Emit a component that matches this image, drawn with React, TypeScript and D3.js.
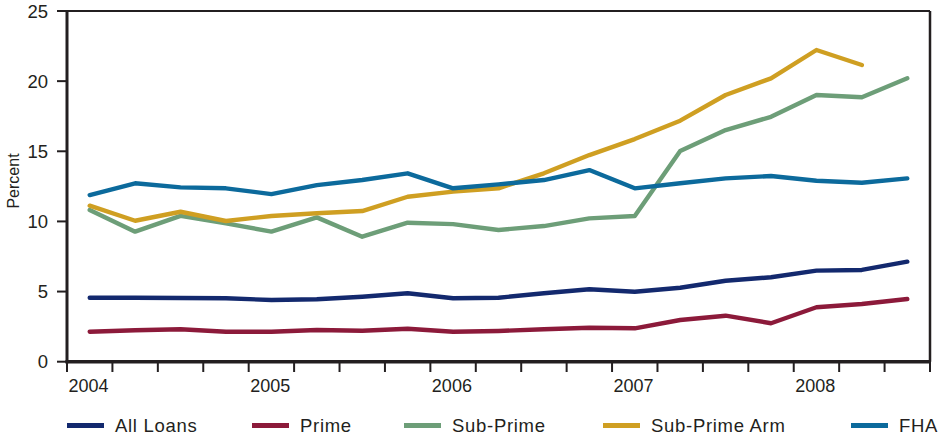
import React from "react";
import * as d3 from "d3";

const quarters = [
  "2004Q1","2004Q2","2004Q3","2004Q4",
  "2005Q1","2005Q2","2005Q3","2005Q4",
  "2006Q1","2006Q2","2006Q3","2006Q4",
  "2007Q1","2007Q2","2007Q3","2007Q4",
  "2008Q1","2008Q2","2008Q3",
];
const yearLabels = ["2004", "2005", "2006", "2007", "2008"];
const yTicks = [0, 5, 10, 15, 20, 25];

const allLoans = [4.56, 4.56, 4.54, 4.52, 4.40, 4.45, 4.63, 4.88, 4.52, 4.56, 4.88, 5.16, 4.99, 5.27, 5.77, 6.02, 6.49, 6.54, 7.13];
const prime = [2.14, 2.24, 2.31, 2.14, 2.14, 2.26, 2.21, 2.35, 2.14, 2.19, 2.31, 2.42, 2.38, 2.97, 3.28, 2.74, 3.88, 4.11, 4.47];
const subPrime = [10.81, 9.27, 10.39, 9.86, 9.27, 10.29, 8.91, 9.91, 9.81, 9.39, 9.67, 10.22, 10.39, 15.02, 16.51, 17.46, 19.01, 18.85, 20.2];
const subPrimeArm = [11.12, 10.05, 10.69, 10.03, 10.39, 10.58, 10.74, 11.76, 12.12, 12.36, 13.43, 14.73, 15.87, 17.18, 19.01, 20.2, 22.22, 21.15];
const fha = [11.88, 12.72, 12.43, 12.36, 11.95, 12.59, 12.95, 13.43, 12.36, 12.64, 12.95, 13.66, 12.36, 12.72, 13.07, 13.24, 12.9, 12.76, 13.07];

const seriesNames = ["All Loans", "Prime", "Sub-Prime", "Sub-Prime Arm", "FHA"];
const seriesValues = [allLoans, prime, subPrime, subPrimeArm, fha];
const seriesColors = ["#13296e", "#8c1a3a", "#6d9e78", "#cf9f22", "#0c6a9c"];

const FONT = "'Liberation Sans', Arial, Helvetica, sans-serif";
const INK = "#231f20";

export default function App() {
  const W = 943, H = 438;
  const left = 67, right = 930, top = 11, bottom = 361.7;

  const xBand = d3.scaleBand<string>().domain(quarters).range([left, right]).padding(0);
  const xc = (i: number) => (xBand(quarters[i]) as number) + xBand.bandwidth() / 2;
  const y = d3.scaleLinear().domain([0, 25]).range([bottom, top]);

  const line = d3.line<number>().x((_, i) => xc(i)).y((v) => y(v));

  const tickXs = quarters.map((q) => xBand(q) as number).concat([right]);

  const legendX = [67, 252, 404, 603, 851];

  return (
    <svg width={W} height={H} style={{ position: "absolute", left: 0, top: 0, background: "#fff" }} fontFamily={FONT}>
      <rect x={0} y={0} width={W} height={H} fill="#fff" />
      {/* frame */}
      <line x1={left} x2={right} y1={top} y2={top} stroke={INK} strokeWidth={2} />
      <line x1={right} x2={right} y1={top} y2={bottom} stroke={INK} strokeWidth={2.5} />
      {/* series */}
      {seriesValues.map((vals, k) => (
        <path key={k} d={line(vals) || ""} fill="none" stroke={seriesColors[k]} strokeWidth={4.4} strokeLinejoin="round" strokeLinecap="round" />
      ))}
      {/* y axis */}
      <line x1={left} x2={left} y1={top - 1} y2={bottom + 1.5} stroke={INK} strokeWidth={3} />
      {yTicks.map((t) => (
        <g key={t}>
          <line x1={57} x2={left} y1={y(t)} y2={y(t)} stroke={INK} strokeWidth={2} />
          <text x={48} y={y(t)} dy="0.36em" textAnchor="end" fontSize={18.5} fill={INK}>{t}</text>
        </g>
      ))}
      <text transform={`translate(19,181) rotate(-90)`} textAnchor="middle" fontSize={16} fill={INK}>Percent</text>
      {/* x axis */}
      <line x1={left - 1.5} x2={right + 1} y1={bottom} y2={bottom} stroke={INK} strokeWidth={3.5} />
      {tickXs.map((tx, i) => (
        <line key={i} x1={tx} x2={tx} y1={bottom} y2={372} stroke={INK} strokeWidth={2} />
      ))}
      {yearLabels.map((yl, i) => (
        <text key={yl} x={tickXs[i * 4] + 1.5} y={392} fontSize={18} fill={INK}>{yl}</text>
      ))}
      {/* legend */}
      {seriesNames.map((n, k) => (
        <g key={n}>
          <rect x={legendX[k]} y={423} width={37} height={5} fill={seriesColors[k]} />
          <text x={legendX[k] + 48} y={432} fontSize={18.5} letterSpacing={0.7} fill={INK}>{n}</text>
        </g>
      ))}
    </svg>
  );
}
